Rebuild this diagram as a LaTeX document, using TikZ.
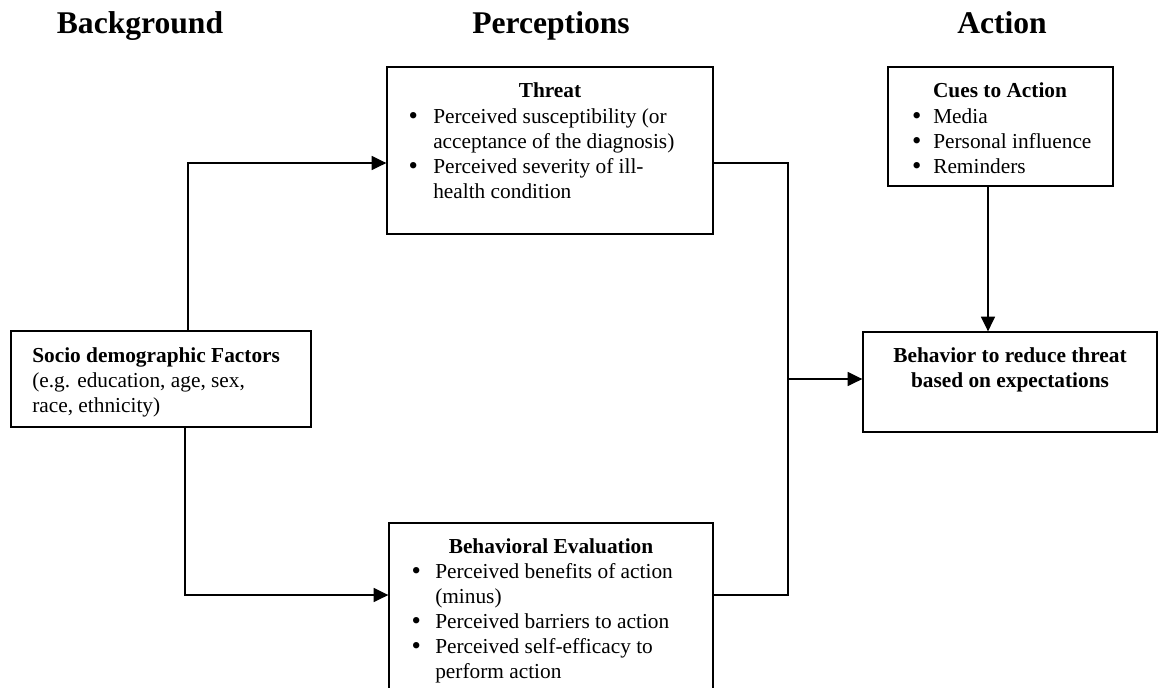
\documentclass[tikz,border=0pt]{standalone}
\usepackage{fontspec}
\setmainfont{Liberation Serif}
\usetikzlibrary{arrows.meta,fit}
% bullet hung to the left of the item text
\newcommand\lbul[1]{\llap{\raisebox{-1pt}{\fontsize{20}{20}\selectfont\textbullet}\hspace{#1}}}
\begin{document}
\begin{tikzpicture}[x=0.75pt,y=-0.75pt,
  box/.style={draw, line width=1pt, inner sep=0pt, rectangle},
  conn/.style={line width=1.1pt},
  arr/.style={conn, -{Triangle[length=11pt,width=10.5pt]}},
  head/.style={font=\fontsize{23.7}{28}\selectfont\bfseries, anchor=base, inner sep=0pt},
  title/.style={font=\fontsize{16}{18.75}\selectfont\bfseries, anchor=base, inner sep=0pt},
  list/.style={font=\fontsize{16}{18.75}\selectfont, anchor=base west, inner sep=0pt},
]
\useasboundingbox (0,0) rectangle (1163,687);
\clip (0,0) rectangle (1163,687);

% column headings
\node[head] (hback) at (140,33) {Background};
\node[head] (hperc) at (551,33) {Perceptions};
\node[head] (hact)  at (1002,33) {Action};

% boxes
\node[box, fit={(387,67) (713,234)}]   (threat) {};
\node[box, fit={(888,67) (1113,186)}]  (cues) {};
\node[box, fit={(11,331) (311,427)}]   (socio) {};
\node[box, fit={(863,332) (1157,432)}] (behav) {};
\node[box, fit={(389,523) (713,720)}]  (beval) {};

% box contents
\node[title] (tthreat) at (550,97) {Threat};
\node[list] (lthreat) at (433,123) {\begin{tabular}[t]{@{}l@{}}
  \lbul{11.5pt}Perceived susceptibility (or\\
  acceptance of the diagnosis)\\
  \lbul{11.5pt}Perceived severity of ill-\\
  health condition
\end{tabular}};

\node[title] (tcues) at (1000,97) {Cues to Action};
\node[list] (lcues) at (933,123) {\begin{tabular}[t]{@{}l@{}}
  \lbul{8.9pt}Media\\
  \lbul{8.9pt}Personal influence\\
  \lbul{8.9pt}Reminders
\end{tabular}};

\node[list] (tsocio) at (32,362) {\begin{tabular}[t]{@{}l@{}}
  \textbf{Socio demographic Factors}\\
  (e.g. education, age, sex,\\
  race, ethnicity)
\end{tabular}};

\node[title] (tbehav) at (1010,362) {\begin{tabular}[t]{@{}c@{}}
  Behavior to reduce threat\\
  based on expectations
\end{tabular}};

\node[title] (tbeval) at (551,553) {Behavioral Evaluation};
\node[list] (lbeval) at (435,578) {\begin{tabular}[t]{@{}l@{}}
  \lbul{10.7pt}Perceived benefits of action\\
  (minus)\\
  \lbul{10.7pt}Perceived barriers to action\\
  \lbul{10.7pt}Perceived self-efficacy to\\
  perform action
\end{tabular}};

% connector bends
\coordinate (s1) at (188,163);
\coordinate (s2) at (185,595);
\coordinate (j1) at (788,163);
\coordinate (j2) at (788,595);
\coordinate (j3) at (788,379);
\coordinate (c1) at (988,0);

% connectors
\draw[arr] (s1 |- socio.north) -- (s1) -- (s1 -| threat.west);
\draw[arr] (s2 |- socio.south) -- (s2) -- (s2 -| beval.west);
\draw[conn] (j1 -| threat.east) -- (j1) -- (j2) -- (j2 -| beval.east);
\draw[arr] (j3) -- (j3 -| behav.west);
\draw[arr] (c1 |- cues.south) -- (c1 |- behav.north);
\end{tikzpicture}
\end{document}
